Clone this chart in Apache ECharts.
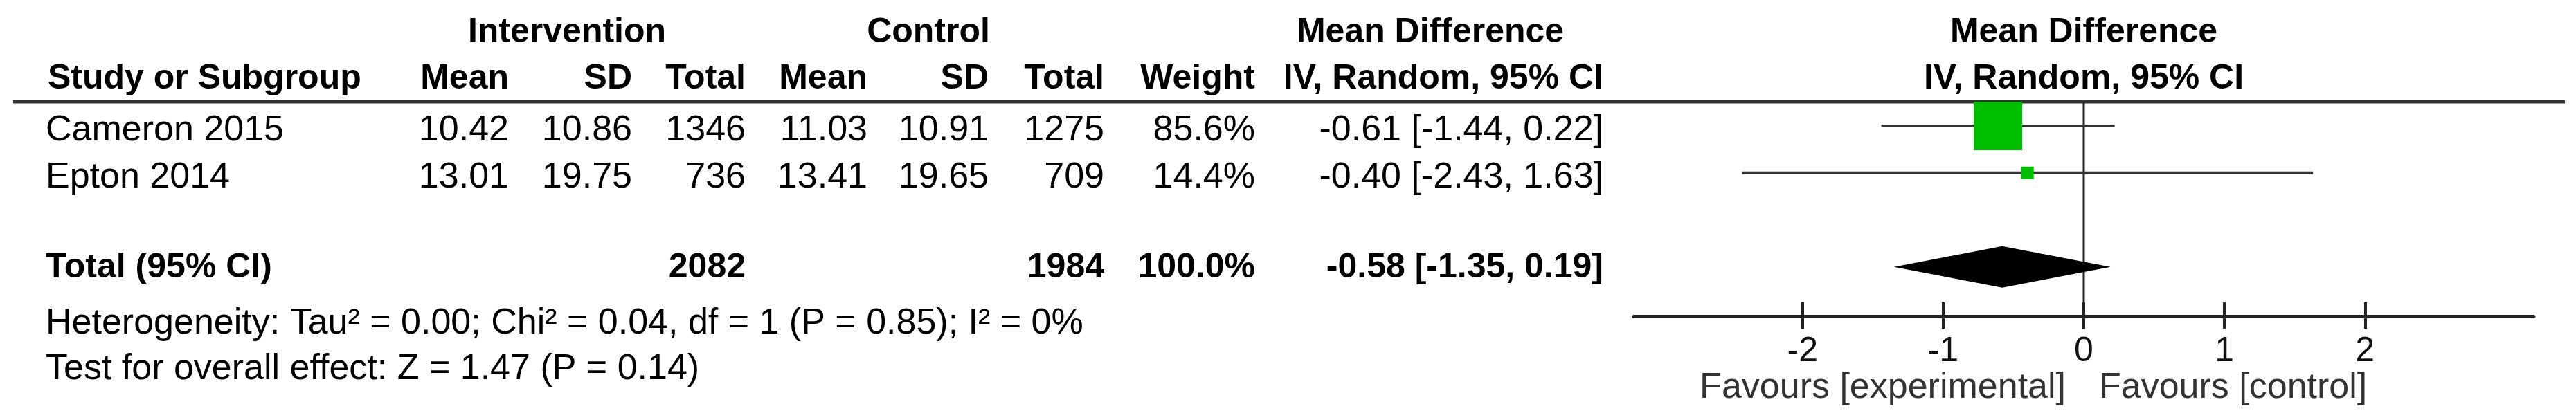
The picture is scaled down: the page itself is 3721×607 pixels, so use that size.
<!DOCTYPE html>
<html>
<head>
<meta charset="utf-8">
<script src="https://cdn.jsdelivr.net/npm/echarts@6/dist/echarts.min.js"></script>
<style>
html,body{margin:0;padding:0;background:#fff;}
#c{width:3721px;height:607px;}
</style>
</head>
<body>
<div id="c"></div>
<script>
// ---------- data ----------
const studies = ['Cameron 2015', 'Epton 2014'];
const intMean = [10.42, 13.01];
const intSD = [10.86, 19.75];
const intTotal = [1346, 736];
const ctrlMean = [11.03, 13.41];
const ctrlSD = [10.91, 19.65];
const ctrlTotal = [1275, 709];
const weights = [85.6, 14.4];
const mdEst = [-0.61, -0.40];
const mdLow = [-1.44, -2.43];
const mdHigh = [0.22, 1.63];
const totalLabel = 'Total (95% CI)';
const totalInt = 2082;
const totalCtrl = 1984;
const totalWeight = 100.0;
const totalEst = -0.58;
const totalLow = -1.35;
const totalHigh = 0.19;
const tickValues = [-2, -1, 0, 1, 2];
const heterogeneityText = 'Heterogeneity: Tau\u00B2 = 0.00; Chi\u00B2 = 0.04, df = 1 (P = 0.85); I\u00B2 = 0%';
const overallText = 'Test for overall effect: Z = 1.47 (P = 0.14)';
const favoursLeft = 'Favours [experimental]';
const favoursRight = 'Favours [control]';

// ---------- layout / style ----------
const FONT = "'Liberation Sans', Arial, sans-serif";
const BODY = 52, HEAD = 50;
const colStudy = 66;
const colRight = { im: 735, isd: 913, it: 1077, cm: 1253, csd: 1428, ct: 1595, w: 1813, ci: 2316 };
const studyRows = [1, 2];
const totalRow = 4;
const yMin = 0.5, yMax = 5.05;
const GREEN = '#00bf00';

const fmt2 = v => v.toFixed(2);
const ciText = (e, l, h) => fmt2(e) + ' [' + fmt2(l) + ', ' + fmt2(h) + ']';
const sqSize = w => 7.5 + 0.73 * w;

function txt(x, y, text, align, bold, size, color) {
  return {
    type: 'text', x: x, y: y, silent: true,
    style: {
      text: text, fill: color || '#000', align: align, verticalAlign: 'middle',
      fontFamily: FONT, fontSize: size || BODY, fontWeight: bold ? 'bold' : 'normal'
    }
  };
}

const studyData = studies.map((s, i) => [mdEst[i], mdLow[i], mdHigh[i], weights[i], studyRows[i], i]);

const chart = echarts.init(document.getElementById('c'), null, { renderer: 'canvas', width: 3721, height: 607 });

const option = {
  backgroundColor: '#fff',
  animation: false,
  grid: { left: 2360, top: 148, width: 1300, height: 309 },
  xAxis: [
    {
      type: 'value', min: -3.2, max: 3.2, position: 'bottom',
      axisLine: { show: true, lineStyle: { color: '#222', width: 5 } },
      axisTick: { show: true, customValues: tickValues, length: 18, lineStyle: { color: '#222', width: 4 } },
      axisLabel: { show: true, customValues: tickValues, margin: 26, fontSize: 50, fontFamily: FONT, color: '#111' },
      splitLine: { show: false }
    },
    {
      type: 'value', min: -3.2, max: 3.2, position: 'bottom',
      axisLine: { show: false },
      axisTick: { show: true, inside: true, customValues: tickValues, length: 20, lineStyle: { color: '#222', width: 4 } },
      axisLabel: { show: false },
      splitLine: { show: false }
    }
  ],
  yAxis: { type: 'value', inverse: true, min: yMin, max: yMax, show: false },
  graphic: [
    { type: 'line', shape: { x1: 19, y1: 147, x2: 3705, y2: 147 }, style: { stroke: '#333', lineWidth: 5 }, silent: true },
    txt(819, 47, 'Intervention', 'center', true, HEAD),
    txt(1341, 47, 'Control', 'center', true, HEAD),
    txt(2066, 47, 'Mean Difference', 'center', true, HEAD),
    txt(3010, 47, 'Mean Difference', 'center', true, HEAD),
    txt(69, 114, 'Study or Subgroup', 'left', true, HEAD),
    txt(colRight.im, 114, 'Mean', 'right', true, HEAD),
    txt(colRight.isd, 114, 'SD', 'right', true, HEAD),
    txt(colRight.it, 114, 'Total', 'right', true, HEAD),
    txt(colRight.cm, 114, 'Mean', 'right', true, HEAD),
    txt(colRight.csd, 114, 'SD', 'right', true, HEAD),
    txt(colRight.ct, 114, 'Total', 'right', true, HEAD),
    txt(colRight.w, 114, 'Weight', 'right', true, HEAD),
    txt(colRight.ci, 114, 'IV, Random, 95% CI', 'right', true, HEAD),
    txt(3010, 114, 'IV, Random, 95% CI', 'center', true, HEAD),
    txt(colStudy, 468, heterogeneityText, 'left', false, BODY),
    txt(colStudy, 534, overallText, 'left', false, BODY)
  ],
  series: [
    // zero line + favours labels
    {
      type: 'custom', xAxisIndex: 0, yAxisIndex: 0, clip: false, silent: true, z: 1,
      data: [[0]],
      renderItem: function (params, api) {
        const top = api.coord([0, yMin]);
        const bot = api.coord([0, yMax]);
        return {
          type: 'group',
          children: [
            { type: 'line', shape: { x1: top[0], y1: top[1], x2: bot[0], y2: bot[1] }, style: { stroke: '#222', lineWidth: 3 } },
            txt(bot[0] - 26, bot[1] + 104, favoursLeft, 'right', false, BODY, '#333'),
            txt(bot[0] + 22, bot[1] + 104, favoursRight, 'left', false, BODY, '#333')
          ]
        };
      }
    },
    // study CIs and squares + table text
    {
      type: 'custom', xAxisIndex: 0, yAxisIndex: 0, clip: false, silent: true, z: 3,
      data: studyData,
      renderItem: function (params, api) {
        const e = api.value(0), l = api.value(1), h = api.value(2), w = api.value(3), r = api.value(4), i = api.value(5);
        const pc = api.coord([e, r]);
        const pl = api.coord([l, r]);
        const ph = api.coord([h, r]);
        const s = sqSize(w);
        const ty = pc[1] + 7;
        return {
          type: 'group',
          children: [
            { type: 'line', shape: { x1: pl[0], y1: pl[1], x2: ph[0], y2: ph[1] }, style: { stroke: '#333', lineWidth: 4 } },
            { type: 'rect', shape: { x: pc[0] - s / 2, y: pc[1] - s / 2, width: s, height: s }, style: { fill: GREEN } },
            txt(colStudy, ty, studies[i], 'left'),
            txt(colRight.im, ty, fmt2(intMean[i]), 'right'),
            txt(colRight.isd, ty, fmt2(intSD[i]), 'right'),
            txt(colRight.it, ty, String(intTotal[i]), 'right'),
            txt(colRight.cm, ty, fmt2(ctrlMean[i]), 'right'),
            txt(colRight.csd, ty, fmt2(ctrlSD[i]), 'right'),
            txt(colRight.ct, ty, String(ctrlTotal[i]), 'right'),
            txt(colRight.w, ty, weights[i].toFixed(1) + '%', 'right'),
            txt(colRight.ci, ty, ciText(e, l, h), 'right')
          ]
        };
      }
    },
    // pooled diamond + total row text
    {
      type: 'custom', xAxisIndex: 0, yAxisIndex: 0, clip: false, silent: true, z: 3,
      data: [[totalEst, totalLow, totalHigh, totalRow]],
      renderItem: function (params, api) {
        const e = api.value(0), l = api.value(1), h = api.value(2), r = api.value(3);
        const pc = api.coord([e, r]);
        const pl = api.coord([l, r]);
        const ph = api.coord([h, r]);
        const hh = 30;
        const ty = pc[1] + 2;
        return {
          type: 'group',
          children: [
            { type: 'polygon', shape: { points: [[pl[0], pl[1]], [pc[0], pc[1] - hh], [ph[0], ph[1]], [pc[0], pc[1] + hh]] }, style: { fill: '#000' } },
            txt(colStudy, ty, totalLabel, 'left', true, HEAD),
            txt(colRight.it, ty, String(totalInt), 'right', true, HEAD),
            txt(colRight.ct, ty, String(totalCtrl), 'right', true, HEAD),
            txt(colRight.w, ty, totalWeight.toFixed(1) + '%', 'right', true, HEAD),
            txt(colRight.ci, ty, ciText(e, l, h), 'right', true, HEAD)
          ]
        };
      }
    }
  ]
};
chart.setOption(option);
</script>
</body>
</html>
